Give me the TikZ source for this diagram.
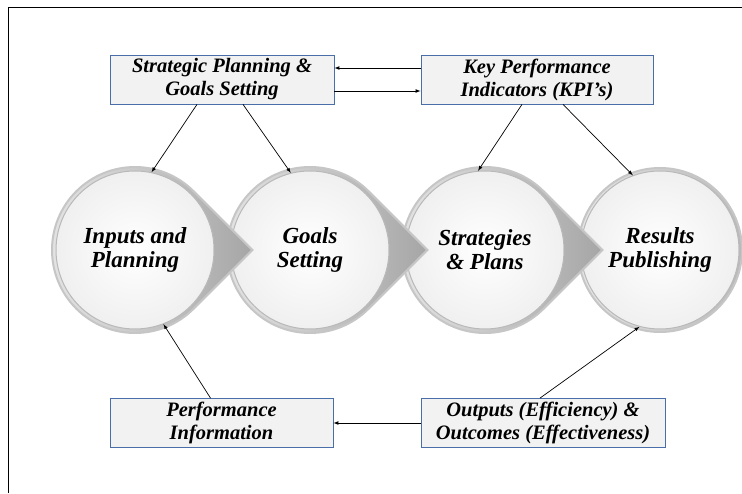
\documentclass[tikz,border=0pt]{standalone}
\usepackage{fontspec}
\setmainfont{Liberation Serif}
\usetikzlibrary{calc}
\definecolor{boxblue}{RGB}{74,110,168}
\definecolor{boxfill}{RGB}{242,242,242}
% circle with a right-pointing tip, centred on #1
\def\teardrop(#1){\draw[line width=2pt, draw=gray!45, left color=gray!20, right color=gray!70] ($(#1)+(45:83)$) -- ($(#1)+(0:117.4)$) -- ($(#1)+(-45:83)$) arc (-45:-315:83) -- cycle;}

\begin{document}
\begin{tikzpicture}[x=1pt, y=1pt,
	infobox/.style={draw=boxblue, line width=0.8pt, fill=boxfill, minimum height=49pt, inner sep=1pt, align=center, font=\fontsize{20.5}{23}\selectfont\bfseries\itshape},
	stage/.style={circle, minimum size=158pt, inner sep=0pt, draw=gray!55, line width=1pt, inner color=white, outer color=gray!12, align=center, font=\fontsize{23}{24}\selectfont\bfseries\itshape},
	link/.style={-latex, line width=0.7pt}]
		%%%%% START %%%%%
		\useasboundingbox (0, 0) rectangle (742, 493);
		
		% frame
		\draw[line width=0.8pt] (8, 0) -- (8, 486) -- (742, 486);
		
		% stages, right to left so each tip lies over the next circle
		\draw[line width=2pt, draw=gray!45, left color=gray!20, right color=gray!55] (660, 243) circle (82);
		\node[stage] (s4) at (660, 243) {Results\\Publishing};
		\teardrop(485, 243);
		\node[stage] (s3) at (485, 243) {Strategies\\\& Plans};
		\teardrop(310, 243);
		\node[stage] (s2) at (310, 243) {Goals\\Setting};
		\teardrop(135, 243);
		\node[stage] (s1) at (135, 243) {Inputs and\\Planning};
		
		% boxes
		\node[infobox, minimum width=224pt] (sp) at (222, 413.5) {Strategic Planning \&\\Goals Setting};
		\node[infobox, minimum width=232pt] (kpi) at (537, 413.5) {Key Performance\\Indicators (KPI's)};
		\node[infobox, minimum width=223pt] (pi) at (221.5, 70) {Performance\\Information};
		\node[infobox, minimum width=244pt] (oo) at (543, 70) {Outputs (Efficiency) \&\\Outcomes (Effectiveness)};
		
		% links between the boxes
		\draw[link] ([yshift=11.5pt]kpi.west) -- ([yshift=11.5pt]sp.east);
		\draw[link] ([yshift=-11.5pt]sp.east) -- ([yshift=-11.5pt]kpi.west);
		\draw[link] (oo.west) -- (pi.east);
		
		% links to the stages
		\draw[link] ([xshift=-25pt]sp.south) -- (s1.78);
		\draw[link] ([xshift=21pt]sp.south) -- (s2.104);
		\draw[link] ([xshift=-15pt]kpi.south) -- (s3.95);
		\draw[link] ([xshift=26pt]kpi.south) -- (s4.110);
		\draw[link] ([xshift=-11pt]pi.north) -- (s1.291);
		\draw[link] ([xshift=-3pt]oo.north) -- (s4.255);
		
		%%%%% END %%%%%
\end{tikzpicture}
\end{document}
